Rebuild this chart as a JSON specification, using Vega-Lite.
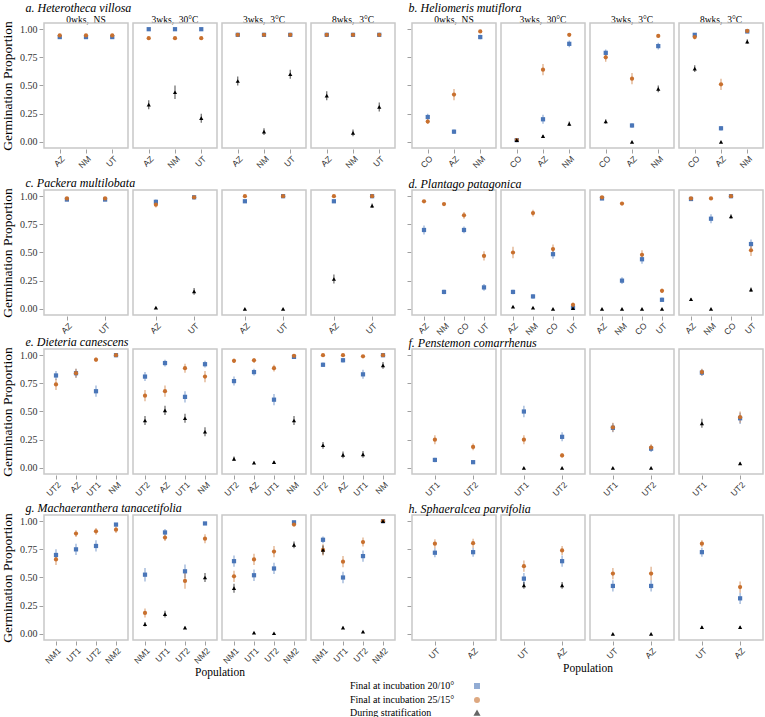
{
  "$schema": "https://vega.github.io/schema/vega-lite/v6.json",
  "padding": {"left": 0, "top": 1, "right": 0, "bottom": 0},
  "background": "white",
  "config": {
    "font": "Liberation Serif",
    "view": {"stroke": "#c8c8c8", "strokeWidth": 1.5},
    "axis": {"grid": false, "domain": false, "tickColor": "#a0a0a0", "tickSize": 4, "labelFont": "Liberation Serif", "labelColor": "#333333", "titleFont": "Liberation Serif", "titleFontWeight": "normal", "titleColor": "#000000"},
    "axisX": {"labelFont": "Liberation Sans", "labelFontSize": 8.5, "labelAngle": -45, "labelPadding": 1},
    "header": {"labelFont": "Liberation Serif", "labelFontSize": 9.5, "labelPadding": 0, "labelColor": "#000000", "titleFont": "Liberation Serif", "titleFontSize": 11.5, "titleFontWeight": "normal", "titlePadding": 2, "titleColor": "#000000"},
    "title": {"font": "Liberation Serif", "fontSize": 12, "fontWeight": "normal", "fontStyle": "italic", "anchor": "start", "offset": -2, "color": "#000000"}
  },
  "data": {"values": [
    {"s":"a","t":"1","p":"AZ","c":"B","y":0.93,"e":0.01},{"s":"a","t":"1","p":"AZ","c":"O","y":0.945,"e":0.01},
    {"s":"a","t":"1","p":"NM","c":"B","y":0.93,"e":0.01},{"s":"a","t":"1","p":"NM","c":"O","y":0.945,"e":0.01},
    {"s":"a","t":"1","p":"UT","c":"B","y":0.93,"e":0.01},{"s":"a","t":"1","p":"UT","c":"O","y":0.945,"e":0.01},
    {"s":"a","t":"2","p":"AZ","c":"B","y":1.0,"e":0},{"s":"a","t":"2","p":"AZ","c":"O","y":0.92,"e":0.01},{"s":"a","t":"2","p":"AZ","c":"K","y":0.33,"e":0.04},
    {"s":"a","t":"2","p":"NM","c":"B","y":1.0,"e":0},{"s":"a","t":"2","p":"NM","c":"O","y":0.92,"e":0.01},{"s":"a","t":"2","p":"NM","c":"K","y":0.44,"e":0.06},
    {"s":"a","t":"2","p":"UT","c":"B","y":1.0,"e":0},{"s":"a","t":"2","p":"UT","c":"O","y":0.92,"e":0.01},{"s":"a","t":"2","p":"UT","c":"K","y":0.21,"e":0.04},
    {"s":"a","t":"3","p":"AZ","c":"B","y":0.95,"e":0.01},{"s":"a","t":"3","p":"AZ","c":"O","y":0.95,"e":0.01},{"s":"a","t":"3","p":"AZ","c":"K","y":0.54,"e":0.04},
    {"s":"a","t":"3","p":"NM","c":"B","y":0.95,"e":0.01},{"s":"a","t":"3","p":"NM","c":"O","y":0.95,"e":0.01},{"s":"a","t":"3","p":"NM","c":"K","y":0.09,"e":0.03},
    {"s":"a","t":"3","p":"UT","c":"B","y":0.95,"e":0.01},{"s":"a","t":"3","p":"UT","c":"O","y":0.95,"e":0.01},{"s":"a","t":"3","p":"UT","c":"K","y":0.6,"e":0.04},
    {"s":"a","t":"4","p":"AZ","c":"B","y":0.95,"e":0.01},{"s":"a","t":"4","p":"AZ","c":"O","y":0.95,"e":0.01},{"s":"a","t":"4","p":"AZ","c":"K","y":0.41,"e":0.04},
    {"s":"a","t":"4","p":"NM","c":"B","y":0.95,"e":0.01},{"s":"a","t":"4","p":"NM","c":"O","y":0.95,"e":0.01},{"s":"a","t":"4","p":"NM","c":"K","y":0.08,"e":0.03},
    {"s":"a","t":"4","p":"UT","c":"B","y":0.95,"e":0.01},{"s":"a","t":"4","p":"UT","c":"O","y":0.95,"e":0.01},{"s":"a","t":"4","p":"UT","c":"K","y":0.31,"e":0.04},

    {"s":"b","t":"1","p":"CO","c":"B","y":0.22,"e":0.03},{"s":"b","t":"1","p":"CO","c":"O","y":0.18,"e":0.02},
    {"s":"b","t":"1","p":"AZ","c":"B","y":0.09,"e":0.02},{"s":"b","t":"1","p":"AZ","c":"O","y":0.42,"e":0.05},
    {"s":"b","t":"1","p":"NM","c":"B","y":0.93,"e":0.02},{"s":"b","t":"1","p":"NM","c":"O","y":0.98,"e":0.01},
    {"s":"b","t":"2","p":"CO","c":"B","y":0.015,"e":0.01},{"s":"b","t":"2","p":"CO","c":"O","y":0.015,"e":0.01},{"s":"b","t":"2","p":"CO","c":"K","y":0.015,"e":0.005},
    {"s":"b","t":"2","p":"AZ","c":"B","y":0.2,"e":0.04},{"s":"b","t":"2","p":"AZ","c":"O","y":0.64,"e":0.05},{"s":"b","t":"2","p":"AZ","c":"K","y":0.05,"e":0.01},
    {"s":"b","t":"2","p":"NM","c":"B","y":0.87,"e":0.03},{"s":"b","t":"2","p":"NM","c":"O","y":0.95,"e":0.015},{"s":"b","t":"2","p":"NM","c":"K","y":0.16,"e":0.02},
    {"s":"b","t":"3","p":"CO","c":"B","y":0.79,"e":0.03},{"s":"b","t":"3","p":"CO","c":"O","y":0.75,"e":0.04},{"s":"b","t":"3","p":"CO","c":"K","y":0.18,"e":0.02},
    {"s":"b","t":"3","p":"AZ","c":"B","y":0.145,"e":0.02},{"s":"b","t":"3","p":"AZ","c":"O","y":0.56,"e":0.05},{"s":"b","t":"3","p":"AZ","c":"K","y":0.0,"e":0},
    {"s":"b","t":"3","p":"NM","c":"B","y":0.85,"e":0.03},{"s":"b","t":"3","p":"NM","c":"O","y":0.94,"e":0.015},{"s":"b","t":"3","p":"NM","c":"K","y":0.47,"e":0.03},
    {"s":"b","t":"4","p":"CO","c":"B","y":0.95,"e":0.015},{"s":"b","t":"4","p":"CO","c":"O","y":0.93,"e":0.02},{"s":"b","t":"4","p":"CO","c":"K","y":0.65,"e":0.03},
    {"s":"b","t":"4","p":"AZ","c":"B","y":0.12,"e":0.02},{"s":"b","t":"4","p":"AZ","c":"O","y":0.51,"e":0.05},{"s":"b","t":"4","p":"AZ","c":"K","y":0.0,"e":0},
    {"s":"b","t":"4","p":"NM","c":"B","y":0.98,"e":0.01},{"s":"b","t":"4","p":"NM","c":"O","y":0.985,"e":0.01},{"s":"b","t":"4","p":"NM","c":"K","y":0.89,"e":0.02},

    {"s":"c","t":"1","p":"AZ","c":"B","y":0.97,"e":0.01},{"s":"c","t":"1","p":"AZ","c":"O","y":0.98,"e":0.01},
    {"s":"c","t":"1","p":"UT","c":"B","y":0.97,"e":0.01},{"s":"c","t":"1","p":"UT","c":"O","y":0.98,"e":0.01},
    {"s":"c","t":"2","p":"AZ","c":"B","y":0.95,"e":0.02},{"s":"c","t":"2","p":"AZ","c":"O","y":0.925,"e":0.025},{"s":"c","t":"2","p":"AZ","c":"K","y":0.01,"e":0.005},
    {"s":"c","t":"2","p":"UT","c":"B","y":0.99,"e":0.005},{"s":"c","t":"2","p":"UT","c":"O","y":0.99,"e":0.005},{"s":"c","t":"2","p":"UT","c":"K","y":0.155,"e":0.03},
    {"s":"c","t":"3","p":"AZ","c":"B","y":0.955,"e":0.01},{"s":"c","t":"3","p":"AZ","c":"O","y":1.0,"e":0},{"s":"c","t":"3","p":"AZ","c":"K","y":0.0,"e":0},
    {"s":"c","t":"3","p":"UT","c":"B","y":1.0,"e":0},{"s":"c","t":"3","p":"UT","c":"O","y":1.0,"e":0},{"s":"c","t":"3","p":"UT","c":"K","y":0.0,"e":0},
    {"s":"c","t":"4","p":"AZ","c":"B","y":0.955,"e":0.01},{"s":"c","t":"4","p":"AZ","c":"O","y":1.0,"e":0},{"s":"c","t":"4","p":"AZ","c":"K","y":0.265,"e":0.04},
    {"s":"c","t":"4","p":"UT","c":"B","y":1.0,"e":0},{"s":"c","t":"4","p":"UT","c":"O","y":1.0,"e":0},{"s":"c","t":"4","p":"UT","c":"K","y":0.915,"e":0.02},

    {"s":"d","t":"1","p":"AZ","c":"B","y":0.7,"e":0.04},{"s":"d","t":"1","p":"AZ","c":"O","y":0.955,"e":0.01},
    {"s":"d","t":"1","p":"NM","c":"B","y":0.15,"e":0.02},{"s":"d","t":"1","p":"NM","c":"O","y":0.93,"e":0.01},
    {"s":"d","t":"1","p":"CO","c":"B","y":0.7,"e":0.03},{"s":"d","t":"1","p":"CO","c":"O","y":0.83,"e":0.03},
    {"s":"d","t":"1","p":"UT","c":"B","y":0.19,"e":0.03},{"s":"d","t":"1","p":"UT","c":"O","y":0.47,"e":0.04},
    {"s":"d","t":"2","p":"AZ","c":"B","y":0.15,"e":0.02},{"s":"d","t":"2","p":"AZ","c":"O","y":0.5,"e":0.05},{"s":"d","t":"2","p":"AZ","c":"K","y":0.02,"e":0.005},
    {"s":"d","t":"2","p":"NM","c":"B","y":0.11,"e":0.02},{"s":"d","t":"2","p":"NM","c":"O","y":0.85,"e":0.03},{"s":"d","t":"2","p":"NM","c":"K","y":0.01,"e":0.005},
    {"s":"d","t":"2","p":"CO","c":"B","y":0.485,"e":0.04},{"s":"d","t":"2","p":"CO","c":"O","y":0.53,"e":0.04},{"s":"d","t":"2","p":"CO","c":"K","y":0.0,"e":0},
    {"s":"d","t":"2","p":"UT","c":"B","y":0.01,"e":0.01},{"s":"d","t":"2","p":"UT","c":"O","y":0.035,"e":0.02},{"s":"d","t":"2","p":"UT","c":"K","y":0.005,"e":0},
    {"s":"d","t":"3","p":"AZ","c":"B","y":0.98,"e":0.01},{"s":"d","t":"3","p":"AZ","c":"O","y":0.99,"e":0.01},{"s":"d","t":"3","p":"AZ","c":"K","y":0.0,"e":0},
    {"s":"d","t":"3","p":"NM","c":"B","y":0.25,"e":0.03},{"s":"d","t":"3","p":"NM","c":"O","y":0.935,"e":0.01},{"s":"d","t":"3","p":"NM","c":"K","y":0.0,"e":0},
    {"s":"d","t":"3","p":"CO","c":"B","y":0.44,"e":0.04},{"s":"d","t":"3","p":"CO","c":"O","y":0.48,"e":0.04},{"s":"d","t":"3","p":"CO","c":"K","y":0.0,"e":0},
    {"s":"d","t":"3","p":"UT","c":"B","y":0.08,"e":0.02},{"s":"d","t":"3","p":"UT","c":"O","y":0.16,"e":0.02},{"s":"d","t":"3","p":"UT","c":"K","y":0.0,"e":0},
    {"s":"d","t":"4","p":"AZ","c":"B","y":0.975,"e":0.01},{"s":"d","t":"4","p":"AZ","c":"O","y":0.98,"e":0.01},{"s":"d","t":"4","p":"AZ","c":"K","y":0.085,"e":0.01},
    {"s":"d","t":"4","p":"NM","c":"B","y":0.8,"e":0.04},{"s":"d","t":"4","p":"NM","c":"O","y":0.98,"e":0.01},{"s":"d","t":"4","p":"NM","c":"K","y":0.0,"e":0},
    {"s":"d","t":"4","p":"CO","c":"B","y":1.0,"e":0},{"s":"d","t":"4","p":"CO","c":"O","y":1.0,"e":0},{"s":"d","t":"4","p":"CO","c":"K","y":0.82,"e":0.02},
    {"s":"d","t":"4","p":"UT","c":"B","y":0.575,"e":0.04},{"s":"d","t":"4","p":"UT","c":"O","y":0.52,"e":0.05},{"s":"d","t":"4","p":"UT","c":"K","y":0.17,"e":0.02},

    {"s":"e","t":"1","p":"UT2","c":"B","y":0.82,"e":0.04},{"s":"e","t":"1","p":"UT2","c":"O","y":0.74,"e":0.05},
    {"s":"e","t":"1","p":"AZ","c":"B","y":0.84,"e":0.04},{"s":"e","t":"1","p":"AZ","c":"O","y":0.84,"e":0.04},
    {"s":"e","t":"1","p":"UT1","c":"B","y":0.68,"e":0.05},{"s":"e","t":"1","p":"UT1","c":"O","y":0.96,"e":0.02},
    {"s":"e","t":"1","p":"NM","c":"B","y":1.0,"e":0},{"s":"e","t":"1","p":"NM","c":"O","y":1.0,"e":0.005},
    {"s":"e","t":"2","p":"UT2","c":"B","y":0.81,"e":0.04},{"s":"e","t":"2","p":"UT2","c":"O","y":0.64,"e":0.05},{"s":"e","t":"2","p":"UT2","c":"K","y":0.42,"e":0.04},
    {"s":"e","t":"2","p":"AZ","c":"B","y":0.93,"e":0.03},{"s":"e","t":"2","p":"AZ","c":"O","y":0.68,"e":0.05},{"s":"e","t":"2","p":"AZ","c":"K","y":0.51,"e":0.04},
    {"s":"e","t":"2","p":"UT1","c":"B","y":0.63,"e":0.05},{"s":"e","t":"2","p":"UT1","c":"O","y":0.885,"e":0.04},{"s":"e","t":"2","p":"UT1","c":"K","y":0.44,"e":0.04},
    {"s":"e","t":"2","p":"NM","c":"B","y":0.92,"e":0.03},{"s":"e","t":"2","p":"NM","c":"O","y":0.81,"e":0.05},{"s":"e","t":"2","p":"NM","c":"K","y":0.32,"e":0.04},
    {"s":"e","t":"3","p":"UT2","c":"B","y":0.77,"e":0.04},{"s":"e","t":"3","p":"UT2","c":"O","y":0.95,"e":0.02},{"s":"e","t":"3","p":"UT2","c":"K","y":0.08,"e":0.02},
    {"s":"e","t":"3","p":"AZ","c":"B","y":0.85,"e":0.03},{"s":"e","t":"3","p":"AZ","c":"O","y":0.955,"e":0.02},{"s":"e","t":"3","p":"AZ","c":"K","y":0.045,"e":0.01},
    {"s":"e","t":"3","p":"UT1","c":"B","y":0.605,"e":0.05},{"s":"e","t":"3","p":"UT1","c":"O","y":0.885,"e":0.03},{"s":"e","t":"3","p":"UT1","c":"K","y":0.05,"e":0.01},
    {"s":"e","t":"3","p":"NM","c":"B","y":0.985,"e":0.01},{"s":"e","t":"3","p":"NM","c":"O","y":0.995,"e":0.005},{"s":"e","t":"3","p":"NM","c":"K","y":0.42,"e":0.04},
    {"s":"e","t":"4","p":"UT2","c":"B","y":0.915,"e":0.02},{"s":"e","t":"4","p":"UT2","c":"O","y":1.0,"e":0},{"s":"e","t":"4","p":"UT2","c":"K","y":0.2,"e":0.03},
    {"s":"e","t":"4","p":"AZ","c":"B","y":0.955,"e":0.02},{"s":"e","t":"4","p":"AZ","c":"O","y":1.0,"e":0},{"s":"e","t":"4","p":"AZ","c":"K","y":0.115,"e":0.03},
    {"s":"e","t":"4","p":"UT1","c":"B","y":0.83,"e":0.04},{"s":"e","t":"4","p":"UT1","c":"O","y":0.99,"e":0.005},{"s":"e","t":"4","p":"UT1","c":"K","y":0.12,"e":0.03},
    {"s":"e","t":"4","p":"NM","c":"B","y":1.0,"e":0},{"s":"e","t":"4","p":"NM","c":"O","y":1.0,"e":0},{"s":"e","t":"4","p":"NM","c":"K","y":0.91,"e":0.03},

    {"s":"f","t":"1","p":"UT1","c":"B","y":0.07,"e":0.02},{"s":"f","t":"1","p":"UT1","c":"O","y":0.25,"e":0.04},
    {"s":"f","t":"1","p":"UT2","c":"B","y":0.05,"e":0.01},{"s":"f","t":"1","p":"UT2","c":"O","y":0.185,"e":0.03},
    {"s":"f","t":"2","p":"UT1","c":"B","y":0.5,"e":0.05},{"s":"f","t":"2","p":"UT1","c":"O","y":0.25,"e":0.04},{"s":"f","t":"2","p":"UT1","c":"K","y":0.0,"e":0},
    {"s":"f","t":"2","p":"UT2","c":"B","y":0.275,"e":0.04},{"s":"f","t":"2","p":"UT2","c":"O","y":0.11,"e":0.02},{"s":"f","t":"2","p":"UT2","c":"K","y":0.0,"e":0},
    {"s":"f","t":"3","p":"UT1","c":"B","y":0.355,"e":0.04},{"s":"f","t":"3","p":"UT1","c":"O","y":0.36,"e":0.04},{"s":"f","t":"3","p":"UT1","c":"K","y":0.0,"e":0},
    {"s":"f","t":"3","p":"UT2","c":"B","y":0.17,"e":0.03},{"s":"f","t":"3","p":"UT2","c":"O","y":0.18,"e":0.03},{"s":"f","t":"3","p":"UT2","c":"K","y":0.0,"e":0},
    {"s":"f","t":"4","p":"UT1","c":"B","y":0.845,"e":0.03},{"s":"f","t":"4","p":"UT1","c":"O","y":0.85,"e":0.03},{"s":"f","t":"4","p":"UT1","c":"K","y":0.395,"e":0.04},
    {"s":"f","t":"4","p":"UT2","c":"B","y":0.44,"e":0.05},{"s":"f","t":"4","p":"UT2","c":"O","y":0.45,"e":0.05},{"s":"f","t":"4","p":"UT2","c":"K","y":0.04,"e":0.01},

    {"s":"g","t":"1","p":"NM1","c":"B","y":0.7,"e":0.05},{"s":"g","t":"1","p":"NM1","c":"O","y":0.66,"e":0.05},
    {"s":"g","t":"1","p":"UT1","c":"B","y":0.75,"e":0.05},{"s":"g","t":"1","p":"UT1","c":"O","y":0.89,"e":0.03},
    {"s":"g","t":"1","p":"UT2","c":"B","y":0.78,"e":0.05},{"s":"g","t":"1","p":"UT2","c":"O","y":0.91,"e":0.03},
    {"s":"g","t":"1","p":"NM2","c":"B","y":0.97,"e":0.01},{"s":"g","t":"1","p":"NM2","c":"O","y":0.925,"e":0.03},
    {"s":"g","t":"2","p":"NM1","c":"B","y":0.525,"e":0.06},{"s":"g","t":"2","p":"NM1","c":"O","y":0.185,"e":0.04},{"s":"g","t":"2","p":"NM1","c":"K","y":0.085,"e":0.02},
    {"s":"g","t":"2","p":"UT1","c":"B","y":0.9,"e":0.03},{"s":"g","t":"2","p":"UT1","c":"O","y":0.855,"e":0.03},{"s":"g","t":"2","p":"UT1","c":"K","y":0.175,"e":0.03},
    {"s":"g","t":"2","p":"UT2","c":"B","y":0.555,"e":0.06},{"s":"g","t":"2","p":"UT2","c":"O","y":0.47,"e":0.07},{"s":"g","t":"2","p":"UT2","c":"K","y":0.055,"e":0.01},
    {"s":"g","t":"2","p":"NM2","c":"B","y":0.98,"e":0.01},{"s":"g","t":"2","p":"NM2","c":"O","y":0.845,"e":0.04},{"s":"g","t":"2","p":"NM2","c":"K","y":0.5,"e":0.04},
    {"s":"g","t":"3","p":"NM1","c":"B","y":0.645,"e":0.05},{"s":"g","t":"3","p":"NM1","c":"O","y":0.51,"e":0.05},{"s":"g","t":"3","p":"NM1","c":"K","y":0.405,"e":0.04},
    {"s":"g","t":"3","p":"UT1","c":"B","y":0.52,"e":0.05},{"s":"g","t":"3","p":"UT1","c":"O","y":0.66,"e":0.05},{"s":"g","t":"3","p":"UT1","c":"K","y":0.01,"e":0.005},
    {"s":"g","t":"3","p":"UT2","c":"B","y":0.58,"e":0.05},{"s":"g","t":"3","p":"UT2","c":"O","y":0.73,"e":0.05},{"s":"g","t":"3","p":"UT2","c":"K","y":0.005,"e":0},
    {"s":"g","t":"3","p":"NM2","c":"B","y":0.99,"e":0.01},{"s":"g","t":"3","p":"NM2","c":"O","y":0.97,"e":0.01},{"s":"g","t":"3","p":"NM2","c":"K","y":0.79,"e":0.03},
    {"s":"g","t":"4","p":"NM1","c":"B","y":0.835,"e":0.03},{"s":"g","t":"4","p":"NM1","c":"O","y":0.745,"e":0.05},{"s":"g","t":"4","p":"NM1","c":"K","y":0.745,"e":0.04},
    {"s":"g","t":"4","p":"UT1","c":"B","y":0.5,"e":0.05},{"s":"g","t":"4","p":"UT1","c":"O","y":0.64,"e":0.05},{"s":"g","t":"4","p":"UT1","c":"K","y":0.055,"e":0.01},
    {"s":"g","t":"4","p":"UT2","c":"B","y":0.69,"e":0.05},{"s":"g","t":"4","p":"UT2","c":"O","y":0.815,"e":0.04},{"s":"g","t":"4","p":"UT2","c":"K","y":0.02,"e":0.005},
    {"s":"g","t":"4","p":"NM2","c":"B","y":1.0,"e":0},{"s":"g","t":"4","p":"NM2","c":"O","y":1.0,"e":0},{"s":"g","t":"4","p":"NM2","c":"K","y":1.0,"e":0},

    {"s":"h","t":"1","p":"UT","c":"B","y":0.72,"e":0.04},{"s":"h","t":"1","p":"UT","c":"O","y":0.8,"e":0.04},
    {"s":"h","t":"1","p":"AZ","c":"B","y":0.725,"e":0.04},{"s":"h","t":"1","p":"AZ","c":"O","y":0.805,"e":0.04},
    {"s":"h","t":"2","p":"UT","c":"B","y":0.49,"e":0.05},{"s":"h","t":"2","p":"UT","c":"O","y":0.6,"e":0.05},{"s":"h","t":"2","p":"UT","c":"K","y":0.43,"e":0.03},
    {"s":"h","t":"2","p":"AZ","c":"B","y":0.645,"e":0.05},{"s":"h","t":"2","p":"AZ","c":"O","y":0.74,"e":0.04},{"s":"h","t":"2","p":"AZ","c":"K","y":0.43,"e":0.03},
    {"s":"h","t":"3","p":"UT","c":"B","y":0.425,"e":0.05},{"s":"h","t":"3","p":"UT","c":"O","y":0.535,"e":0.05},{"s":"h","t":"3","p":"UT","c":"K","y":0.0,"e":0},
    {"s":"h","t":"3","p":"AZ","c":"B","y":0.425,"e":0.05},{"s":"h","t":"3","p":"AZ","c":"O","y":0.535,"e":0.06},{"s":"h","t":"3","p":"AZ","c":"K","y":0.0,"e":0},
    {"s":"h","t":"4","p":"UT","c":"B","y":0.725,"e":0.04},{"s":"h","t":"4","p":"UT","c":"O","y":0.8,"e":0.03},{"s":"h","t":"4","p":"UT","c":"K","y":0.06,"e":0.01},
    {"s":"h","t":"4","p":"AZ","c":"B","y":0.315,"e":0.05},{"s":"h","t":"4","p":"AZ","c":"O","y":0.415,"e":0.05},{"s":"h","t":"4","p":"AZ","c":"K","y":0.06,"e":0.01}
  ]},
  "spacing": -2,
  "vconcat": [
    {"spacing": 6, "vconcat": [
      {"spacing": 10, "hconcat": [
        {
          "title": {"text": "a. Heterotheca villosa", "dx": 25, "offset": 0},
          "transform": [{"filter": "datum.s == 'a'"}],
          "facet": {"column": {"field": "t", "type": "ordinal", "title": null, "header": {"labelPadding": -2, "labelExpr": "['0wks,\u00a0 NS','3wks,\u00a0 30°C','3wks,\u00a0 3°C','8wks,\u00a0 3°C'][+datum.value-1]"}}},
          "spacing": 3,
          "spec": {
            "width": 84, "height": 125,
            "encoding": {
              "x": {"field": "p", "type": "nominal", "sort": ["AZ","NM","UT"], "scale": {"type": "point", "padding": 0.6}, "axis": {"title": null}},
              "y": {"field": "y", "type": "quantitative", "scale": {"domain": [-0.055, 1.055], "nice": false, "zero": false}, "axis": {"title": "Germination Proportion", "titleFontSize": 13.5, "values": [0, 0.25, 0.5, 0.75, 1], "format": ".2f", "labelFontSize": 10, "titlePadding": 5}},
              "color": {"field": "c", "type": "nominal", "scale": {"domain": ["B","O","K"], "range": ["#4a76b8","#c8702e","#000000"]}, "legend": {"title": null, "orient": "none", "legendX": 428, "legendY": 658, "labelExpr": "datum.value == 'B' ? 'Final at incubation 20/10°' : datum.value == 'O' ? 'Final at incubation 25/15°' : 'During stratification'", "labelAlign": "left", "labelOffset": -132, "labelFontSize": 10, "labelFont": "Liberation Serif", "labelColor": "#000000", "symbolSize": 20, "rowPadding": 2, "labelLimit": 200}}
            },
            "layer": [
              {"mark": {"type": "errorbar", "thickness": 1.2, "opacity": 0.6}, "encoding": {"yError": {"field": "e"}}},
              {"mark": {"type": "point", "filled": true, "size": 18, "opacity": 1}, "encoding": {"shape": {"field": "c", "type": "nominal", "scale": {"domain": ["B","O","K"], "range": ["square","circle","triangle-up"]}, "legend": {"title": null, "orient": "none", "legendX": 428, "legendY": 658, "labelExpr": "datum.value == 'B' ? 'Final at incubation 20/10°' : datum.value == 'O' ? 'Final at incubation 25/15°' : 'During stratification'", "labelAlign": "left", "labelOffset": -132, "labelFontSize": 10, "labelFont": "Liberation Serif", "labelColor": "#000000", "symbolSize": 20, "rowPadding": 2, "labelLimit": 200}}}}
            ]
          }
        },
        {
          "title": {"text": "b. Heliomeris mutiflora", "dx": 2, "offset": 0},
          "transform": [{"filter": "datum.s == 'b'"}],
          "facet": {"column": {"field": "t", "type": "ordinal", "title": null, "header": {"labelPadding": -2, "labelExpr": "['0wks,\u00a0 NS','3wks,\u00a0 30°C','3wks,\u00a0 3°C','8wks,\u00a0 3°C'][+datum.value-1]"}}},
          "spacing": 3,
          "spec": {
            "width": 84, "height": 125,
            "encoding": {
              "x": {"field": "p", "type": "nominal", "sort": ["CO","AZ","NM"], "scale": {"type": "point", "padding": 0.6}, "axis": {"title": null}},
              "y": {"field": "y", "type": "quantitative", "scale": {"domain": [-0.055, 1.055], "nice": false, "zero": false}, "axis": {"title": null, "labels": false, "values": [0, 0.25, 0.5, 0.75, 1]}},
              "color": {"field": "c", "type": "nominal"}
            },
            "layer": [
              {"mark": {"type": "errorbar", "thickness": 1.2, "opacity": 0.6}, "encoding": {"yError": {"field": "e"}}},
              {"mark": {"type": "point", "filled": true, "size": 18, "opacity": 1}, "encoding": {"shape": {"field": "c", "type": "nominal"}}}
            ]
          }
        }
      ]},
      {"spacing": 10, "hconcat": [
        {
          "title": {"text": "c. Packera multilobata", "dx": 25},
          "transform": [{"filter": "datum.s == 'c'"}],
          "facet": {"column": {"field": "t", "type": "ordinal", "title": null, "header": {"labels": false}}},
          "spacing": 3,
          "spec": {
            "width": 84, "height": 125,
            "encoding": {
              "x": {"field": "p", "type": "nominal", "sort": ["AZ","UT"], "scale": {"type": "point", "padding": 0.6}, "axis": {"title": null}},
              "y": {"field": "y", "type": "quantitative", "scale": {"domain": [-0.055, 1.055], "nice": false, "zero": false}, "axis": {"title": "Germination Proportion", "titleFontSize": 13.5, "values": [0, 0.25, 0.5, 0.75, 1], "format": ".2f", "labelFontSize": 10, "titlePadding": 5}},
              "color": {"field": "c", "type": "nominal"}
            },
            "layer": [
              {"mark": {"type": "errorbar", "thickness": 1.2, "opacity": 0.6}, "encoding": {"yError": {"field": "e"}}},
              {"mark": {"type": "point", "filled": true, "size": 18, "opacity": 1}, "encoding": {"shape": {"field": "c", "type": "nominal"}}}
            ]
          }
        },
        {
          "title": {"text": "d. Plantago patagonica", "dx": 2},
          "transform": [{"filter": "datum.s == 'd'"}],
          "facet": {"column": {"field": "t", "type": "ordinal", "title": null, "header": {"labels": false}}},
          "spacing": 3,
          "spec": {
            "width": 84, "height": 125,
            "encoding": {
              "x": {"field": "p", "type": "nominal", "sort": ["AZ","NM","CO","UT"], "scale": {"type": "point", "padding": 0.6}, "axis": {"title": null}},
              "y": {"field": "y", "type": "quantitative", "scale": {"domain": [-0.055, 1.055], "nice": false, "zero": false}, "axis": {"title": null, "labels": false, "values": [0, 0.25, 0.5, 0.75, 1]}},
              "color": {"field": "c", "type": "nominal"}
            },
            "layer": [
              {"mark": {"type": "errorbar", "thickness": 1.2, "opacity": 0.6}, "encoding": {"yError": {"field": "e"}}},
              {"mark": {"type": "point", "filled": true, "size": 18, "opacity": 1}, "encoding": {"shape": {"field": "c", "type": "nominal"}}}
            ]
          }
        }
      ]}
    ]},
    {"spacing": 3, "vconcat": [
      {"spacing": 10, "hconcat": [
        {
          "title": {"text": "e. Dieteria canescens", "dx": 25},
          "transform": [{"filter": "datum.s == 'e'"}],
          "facet": {"column": {"field": "t", "type": "ordinal", "title": null, "header": {"labels": false}}},
          "spacing": 3,
          "spec": {
            "width": 84, "height": 125,
            "encoding": {
              "x": {"field": "p", "type": "nominal", "sort": ["UT2","AZ","UT1","NM"], "scale": {"type": "point", "padding": 0.6}, "axis": {"title": null}},
              "y": {"field": "y", "type": "quantitative", "scale": {"domain": [-0.055, 1.055], "nice": false, "zero": false}, "axis": {"title": "Germination Proportion", "titleFontSize": 13.5, "values": [0, 0.25, 0.5, 0.75, 1], "format": ".2f", "labelFontSize": 10, "titlePadding": 5}},
              "color": {"field": "c", "type": "nominal"}
            },
            "layer": [
              {"mark": {"type": "errorbar", "thickness": 1.2, "opacity": 0.6}, "encoding": {"yError": {"field": "e"}}},
              {"mark": {"type": "point", "filled": true, "size": 18, "opacity": 1}, "encoding": {"shape": {"field": "c", "type": "nominal"}}}
            ]
          }
        },
        {
          "title": {"text": "f. Penstemon comarrhenus", "dx": 2},
          "transform": [{"filter": "datum.s == 'f'"}],
          "facet": {"column": {"field": "t", "type": "ordinal", "title": null, "header": {"labels": false}}},
          "spacing": 3,
          "spec": {
            "width": 84, "height": 125,
            "encoding": {
              "x": {"field": "p", "type": "nominal", "sort": ["UT1","UT2"], "scale": {"type": "point", "padding": 0.6}, "axis": {"title": null}},
              "y": {"field": "y", "type": "quantitative", "scale": {"domain": [-0.055, 1.055], "nice": false, "zero": false}, "axis": {"title": null, "labels": false, "values": [0, 0.25, 0.5, 0.75, 1]}},
              "color": {"field": "c", "type": "nominal"}
            },
            "layer": [
              {"mark": {"type": "errorbar", "thickness": 1.2, "opacity": 0.6}, "encoding": {"yError": {"field": "e"}}},
              {"mark": {"type": "point", "filled": true, "size": 18, "opacity": 1}, "encoding": {"shape": {"field": "c", "type": "nominal"}}}
            ]
          }
        }
      ]},
      {"spacing": 10, "hconcat": [
        {
          "title": {"text": "g. Machaeranthera tanacetifolia", "dx": 25},
          "transform": [{"filter": "datum.s == 'g'"}],
          "facet": {"column": {"field": "t", "type": "ordinal", "title": "Population", "header": {"labels": false, "titleOrient": "bottom", "titlePadding": -8}}},
          "spacing": 3,
          "spec": {
            "width": 84, "height": 125,
            "encoding": {
              "x": {"field": "p", "type": "nominal", "sort": ["NM1","UT1","UT2","NM2"], "scale": {"type": "point", "padding": 0.6}, "axis": {"title": null}},
              "y": {"field": "y", "type": "quantitative", "scale": {"domain": [-0.055, 1.055], "nice": false, "zero": false}, "axis": {"title": "Germination Proportion", "titleFontSize": 13.5, "values": [0, 0.25, 0.5, 0.75, 1], "format": ".2f", "labelFontSize": 10, "titlePadding": 5}},
              "color": {"field": "c", "type": "nominal"}
            },
            "layer": [
              {"mark": {"type": "errorbar", "thickness": 1.2, "opacity": 0.6}, "encoding": {"yError": {"field": "e"}}},
              {"mark": {"type": "point", "filled": true, "size": 18, "opacity": 1}, "encoding": {"shape": {"field": "c", "type": "nominal"}}}
            ]
          }
        },
        {
          "title": {"text": "h. Sphaeralcea parvifolia", "dx": 2},
          "transform": [{"filter": "datum.s == 'h'"}],
          "facet": {"column": {"field": "t", "type": "ordinal", "title": "Population", "header": {"labels": false, "titleOrient": "bottom", "titlePadding": -8}}},
          "spacing": 3,
          "spec": {
            "width": 84, "height": 125,
            "encoding": {
              "x": {"field": "p", "type": "nominal", "sort": ["UT","AZ"], "scale": {"type": "point", "padding": 0.6}, "axis": {"title": null}},
              "y": {"field": "y", "type": "quantitative", "scale": {"domain": [-0.055, 1.055], "nice": false, "zero": false}, "axis": {"title": null, "labels": false, "values": [0, 0.25, 0.5, 0.75, 1]}},
              "color": {"field": "c", "type": "nominal"}
            },
            "layer": [
              {"mark": {"type": "errorbar", "thickness": 1.2, "opacity": 0.6}, "encoding": {"yError": {"field": "e"}}},
              {"mark": {"type": "point", "filled": true, "size": 18, "opacity": 1}, "encoding": {"shape": {"field": "c", "type": "nominal"}}}
            ]
          }
        }
      ]}
    ]}
  ]
}
